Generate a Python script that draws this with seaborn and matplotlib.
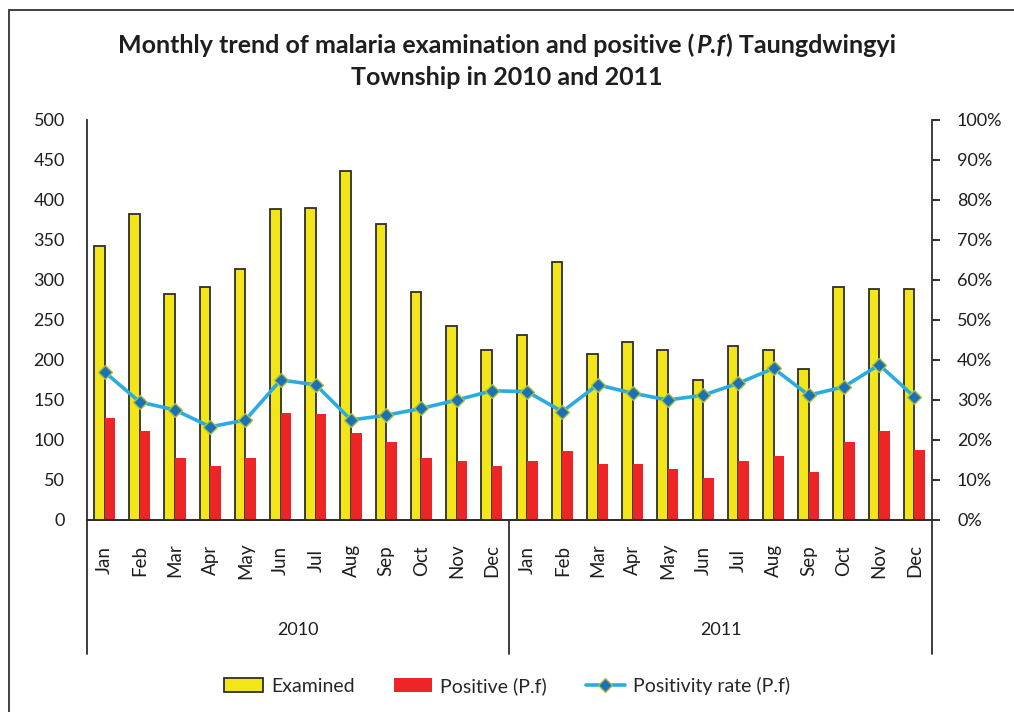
import numpy as np
import pandas as pd
import seaborn as sns
import matplotlib.pyplot as plt
from matplotlib.lines import Line2D
from matplotlib.patches import Patch, Rectangle
from matplotlib.ticker import FuncFormatter

sns.set_style('white')
plt.rcParams['font.family'] = ['Lato', 'DejaVu Sans']

# data
months = ['Jan', 'Feb', 'Mar', 'Apr', 'May', 'Jun', 'Jul', 'Aug', 'Sep', 'Oct', 'Nov', 'Dec']
years = ['2010', '2011']
examined = [343, 382, 283, 291, 314, 389, 390, 436, 370, 285, 243, 212,
            231, 322, 208, 222, 212, 175, 218, 212, 189, 291, 289, 289]
positive = [127, 111, 78, 67, 78, 134, 132, 109, 97, 78, 74, 67,
            74, 86, 70, 70, 64, 53, 74, 80, 60, 97, 111, 88]
rate = [37.0, 29.5, 27.5, 23.3, 25.0, 35.0, 33.8, 25.0, 26.2, 27.9, 30.0, 32.3,
        32.1, 27.1, 33.8, 31.7, 30.0, 31.2, 34.2, 37.9, 31.2, 33.3, 38.8, 30.8]

keys = [y + '-' + m for y in years for m in months]
df = pd.DataFrame({
    'key': keys * 2,
    'value': examined + positive,
    'series': ['Examined'] * 24 + ['Positive (P.f)'] * 24,
})

c_yellow = '#f2e619'
c_red = '#ee2526'
c_line = '#2aace2'
c_marker = '#1b70b8'
c_text = '#1e1e1e'

fig = plt.figure(figsize=(10.14, 7.12), dpi=100)
ax = fig.add_axes([87 / 1014, 192 / 712, 845 / 1014, 400 / 712])

sns.barplot(data=df, x='key', y='value', hue='series',
            hue_order=['Examined', 'Positive (P.f)'], saturation=1,
            palette=[c_yellow, c_red], width=0.6, ax=ax, legend=False)
for bar in ax.containers[0]:
    bar.set_edgecolor('#2e2e2a')
    bar.set_linewidth(1.3)
for bar in ax.containers[1]:
    bar.set_edgecolor('none')

ax2 = ax.twinx()
sns.lineplot(x=np.arange(24), y=rate, ax=ax2, color=c_line, lw=2.6,
             marker='D', markersize=7, markerfacecolor=c_marker,
             markeredgecolor='#a8c040', markeredgewidth=1.0)

ax.set_xlim(-0.5, 23.5)
ax.set_ylim(0, 500)
ax.set_yticks(range(0, 501, 50))
ax2.set_ylim(0, 100)
ax2.set_yticks(range(0, 101, 10))
ax2.yaxis.set_major_formatter(FuncFormatter(lambda v, p: f'{v:.0f}%'))

ax.set_xlabel('')
ax.set_ylabel('')
ax2.set_ylabel('')
ax.set_xticks(range(24))
ax.set_xticklabels(months * 2, rotation=90, fontsize=13.5, color=c_text, va='center')
ax.tick_params(axis='x', length=0, pad=29)
ax.tick_params(axis='y', length=0, pad=16, labelsize=13, colors=c_text)
ax2.tick_params(axis='y', length=6, width=1.3, direction='out', pad=12,
                labelsize=13, colors=c_text)

for a in (ax, ax2):
    a.spines['top'].set_visible(False)
    for s in ('left', 'right', 'bottom'):
        a.spines[s].set_color('#2e2e2e')
        a.spines[s].set_linewidth(1.3)
ax.spines['right'].set_visible(False)
ax2.spines['left'].set_visible(False)

# hierarchical category axis: separators and year labels
for xpos in (-0.5, 11.5, 23.5):
    ax.add_line(Line2D([xpos, xpos], [0, -0.335], color='#2e2e2e', lw=1.3,
                       transform=ax.get_xaxis_transform(), clip_on=False))
for i, yr in enumerate(years):
    ax.text(5.5 + 12 * i, -0.275, yr, transform=ax.get_xaxis_transform(),
            ha='center', va='center', fontsize=13, color=c_text)

# title, with italic P.f in the first line
tkw = dict(fontsize=18, fontweight='bold', color=c_text, va='bottom')
t1 = fig.text(0, 1 - 57 / 712, 'Monthly trend of malaria examination and positive (', ha='left', **tkw)
t2 = fig.text(0, 0, 'P.f', ha='left', style='italic', **tkw)
t3 = fig.text(0, 0, ') Taungdwingyi', ha='left', **tkw)
fig.text(0.5, 1 - 89 / 712, 'Township in 2010 and 2011', ha='center', **tkw)

fig.canvas.draw()
r = fig.canvas.get_renderer()
w1, w2, w3 = (t.get_window_extent(r).width for t in (t1, t2, t3))
x0 = (1014 - (w1 + w2 + w3 + 2)) / 2
t1.set_x(x0 / 1014)
t2.set_position(((x0 + w1 + 1) / 1014, t1.get_position()[1]))
t3.set_position(((x0 + w1 + w2 + 2) / 1014, t1.get_position()[1]))

handles = [
    Patch(facecolor=c_yellow, edgecolor='#2e2e2a', linewidth=1.3, label='Examined'),
    Patch(facecolor=c_red, edgecolor='none', label='Positive (P.f)'),
    Line2D([], [], color=c_line, lw=2.6, marker='D', markersize=7,
           markerfacecolor=c_marker, markeredgecolor='#a8c040',
           label='Positivity rate (P.f)'),
]
fig.legend(handles=handles, loc='center', bbox_to_anchor=(0.5, 26 / 712),
           ncol=3, frameon=False, fontsize=14, handlelength=2.0,
           handletextpad=0.4, columnspacing=2.0)

# outer chart border
fig.add_artist(Rectangle((9 / 1014, -0.05), 1.1, 0.05 + (712 - 10) / 712,
                         transform=fig.transFigure, fill=False,
                         edgecolor='#333333', lw=1.3, clip_on=False))

fig.savefig('out.png', dpi=100)
